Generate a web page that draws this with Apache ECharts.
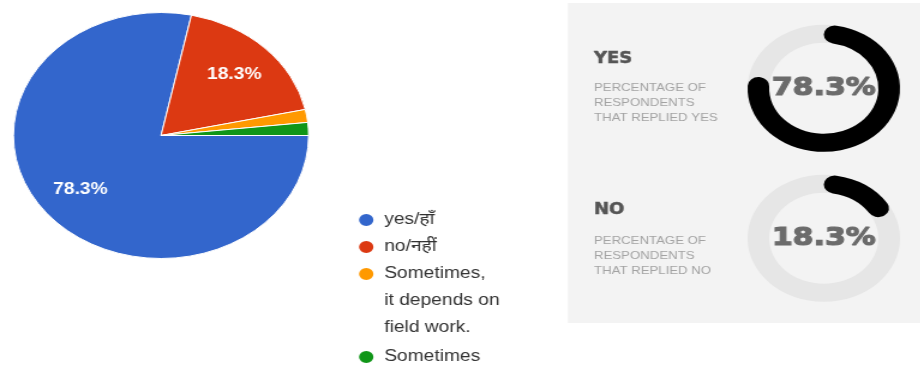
<!DOCTYPE html>
<html>
<head>
<meta charset="utf-8">
<script src="https://cdn.jsdelivr.net/npm/echarts@6/dist/echarts.min.js"></script>
<style>
  html, body { margin: 0; padding: 0; background: #ffffff; overflow: hidden; }
  #wrap { width: 920px; height: 368px; overflow: hidden; }
  /* the survey graphic is laid out 767px wide and widened to fill the frame */
  #chart { width: 767px; height: 368px; transform: scaleX(1.2); transform-origin: 0 0; }
</style>
</head>
<body>
<div id="wrap"><div id="chart"></div></div>
<script>
// Answers to the survey question (share of respondents, %)
const answerNames = ['yes/हाँ', 'no/नहीं', 'Sometimes,\nit depends on\nfield work.', 'Sometimes'];
const answerShares = [78.3, 18.3, 1.7, 1.7];
const answerColors = ['#3366cc', '#dc3912', '#ff9900', '#109618'];

// Summary rings on the right
const ringHeads = ['YES', 'NO'];
const ringNotes = [
  'PERCENTAGE OF\nRESPONDENTS\nTHAT REPLIED YES',
  'PERCENTAGE OF\nRESPONDENTS\nTHAT REPLIED NO'
];
const ringShares = [78.3, 18.3];

const PIE_CENTER = [134.2, 135.5];
const PIE_R = 123;
const RING_X = 686.5;
const RING_Y = [88.3, 238.3];
const RING_R = [45.5, 63.5];
const BASE_FONT = '"Liberation Sans", Arial, "Noto Sans", sans-serif';

const chart = echarts.init(document.getElementById('chart'), null, { renderer: 'canvas' });

const pieData = answerNames.map((name, i) => ({
  name: name,
  value: answerShares[i],
  itemStyle: { color: answerColors[i] }
}));

// labels ride on a transparent ring so they sit about two thirds out from the centre
const labelData = answerNames.map((name, i) => ({
  name: name,
  value: answerShares[i],
  itemStyle: { color: 'rgba(0,0,0,0)' }
}));

const series = [
  {
    type: 'pie',
    center: PIE_CENTER,
    radius: [0, PIE_R],
    startAngle: 0,
    clockwise: true,
    data: pieData,
    itemStyle: { borderColor: '#ffffff', borderWidth: 1 },
    label: { show: false },
    labelLine: { show: false },
    emphasis: { disabled: true }
  },
  {
    type: 'pie',
    center: PIE_CENTER,
    radius: [44, PIE_R],
    startAngle: 0,
    clockwise: true,
    silent: true,
    data: labelData,
    itemStyle: { borderWidth: 0 },
    label: {
      show: true,
      position: 'inside',
      formatter: p => (p.percent >= 5 ? p.percent.toFixed(1) + '%' : ''),
      color: '#ffffff',
      fontWeight: 'bold',
      fontSize: 16,
      fontFamily: BASE_FONT
    },
    labelLine: { show: false },
    emphasis: { disabled: true }
  }
];

ringShares.forEach((v, i) => {
  // grey track
  series.push({
    type: 'pie',
    center: [RING_X, RING_Y[i]],
    radius: RING_R,
    silent: true,
    z: 2,
    data: [{ value: 1, itemStyle: { color: '#e6e6e6' } }],
    label: { show: false },
    labelLine: { show: false },
    emphasis: { disabled: true }
  });
  // black share arc with rounded ends
  series.push({
    type: 'pie',
    center: [RING_X, RING_Y[i]],
    radius: RING_R,
    startAngle: 90,
    clockwise: true,
    silent: true,
    z: 3,
    data: [
      {
        value: v,
        itemStyle: { color: '#000000', borderRadius: 9 },
        label: {
          show: true,
          position: 'center',
          formatter: '{c}%',
          fontSize: 25,
          fontWeight: 'bold',
          color: '#6b6b6b',
          textBorderColor: '#6b6b6b',
          textBorderWidth: 1.2,
          fontFamily: '"DejaVu Sans", sans-serif'
        }
      },
      {
        value: 100 - v,
        itemStyle: { color: 'rgba(0,0,0,0)' },
        label: { show: false }
      }
    ],
    labelLine: { show: false },
    emphasis: { disabled: true }
  });
});

const legendText = {
  fontSize: 16,
  fontFamily: BASE_FONT,
  color: '#333333',
  lineHeight: 27,
  padding: [0, 0, 0, 3]
};
const legendBase = {
  orient: 'vertical',
  left: 297.2,
  padding: 0,
  itemGap: 0,
  itemWidth: 14,
  itemHeight: 14,
  icon: 'circle',
  textStyle: legendText
};

const graphics = [
  {
    type: 'rect',
    z: 0,
    shape: { x: 473.3, y: 3, width: 300, height: 320 },
    style: { fill: '#f3f3f3' }
  }
];
ringHeads.forEach((head, i) => {
  graphics.push({
    type: 'text',
    z: 1,
    style: {
      text: head,
      x: 495,
      y: 59 + i * 151,
      verticalAlign: 'middle',
      font: 'bold 15px "DejaVu Sans", sans-serif',
      fill: '#555555',
      stroke: '#555555',
      lineWidth: 0.5
    }
  });
  graphics.push({
    type: 'text',
    z: 1,
    style: {
      text: ringNotes[i],
      x: 495,
      y: 103 + i * 153,
      verticalAlign: 'middle',
      font: '11px ' + BASE_FONT,
      lineHeight: 15,
      fill: '#a3a3a3'
    }
  });
});

chart.setOption({
  animation: false,
  backgroundColor: '#ffffff',
  tooltip: { show: false },
  legend: [
    Object.assign({}, legendBase, {
      top: 206.5,
      data: [answerNames[0], answerNames[1]]
    }),
    // wrapped answer: rich text pushed down so its first line sits beside the dot
    Object.assign({}, legendBase, {
      top: 206.5,
      data: [answerNames[2]],
      formatter: name => name.split('\n').map(s => '{a|' + s + '}').join('\n'),
      textStyle: Object.assign({}, legendText, {
        padding: [54, 0, 0, 3],
        rich: {
          a: { fontSize: 16, fontFamily: BASE_FONT, color: '#333333', lineHeight: 27 }
        }
      })
    }),
    Object.assign({}, legendBase, {
      top: 343.5,
      data: [answerNames[3]]
    })
  ],
  graphic: graphics,
  series: series
});
</script>
</body>
</html>
